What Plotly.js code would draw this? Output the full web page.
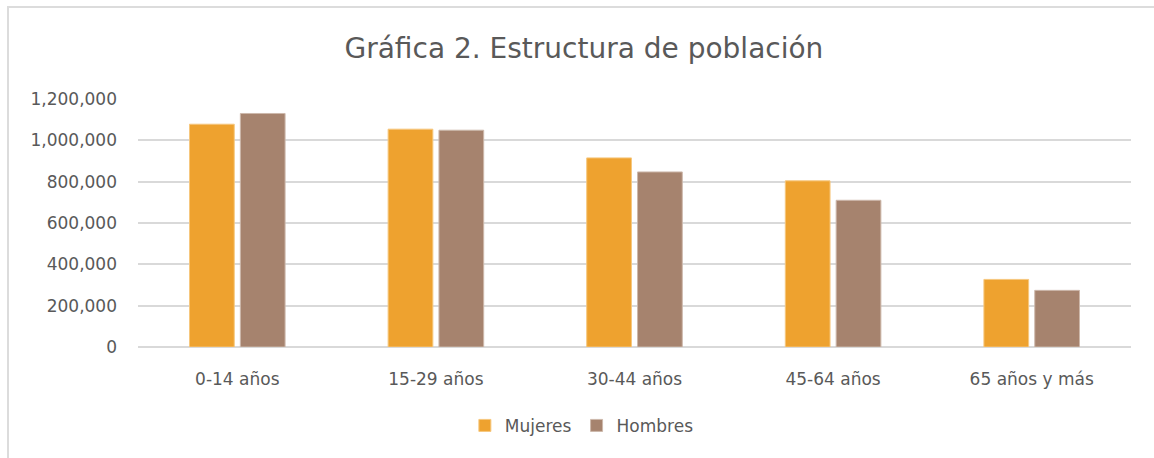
<!DOCTYPE html>
<html>
<head>
<meta charset="utf-8">
<script src="https://cdn.plot.ly/plotly-3.0.1.min.js"></script>
<style>
  html, body { margin: 0; padding: 0; background: #ffffff; }
  #wrap { position: relative; width: 1154px; height: 458px; overflow: hidden; }
  #chart { position: absolute; left: 0; top: 0; width: 1154px; height: 458px; }
  #frame { position: absolute; left: 7px; top: 6px; width: 1160px; height: 470px;
           border-top: 2px solid #dcdcdc; border-left: 2px solid #dcdcdc; pointer-events: none; }
</style>
</head>
<body>
<div id="wrap">
  <div id="chart"></div>
  <div id="frame"></div>
</div>
<script>
const categories = ["0-14 años", "15-29 años", "30-44 años", "45-64 años", "65 años y más"];
const mujeres = [1078000, 1054000, 915000, 804000, 327000];
const hombres = [1130000, 1049000, 847000, 710000, 274000];
const yTicks = [0, 200000, 400000, 600000, 800000, 1000000, 1200000];

const FONT = "'DejaVu Sans', 'Open Sans', sans-serif";
const TXT = "#595959";

const traces = [
  {
    type: "bar", name: "Mujeres", x: categories, y: mujeres,
    marker: { color: "#EEA22F", line: { color: "#F6C77E", width: 1 } },
    hoverinfo: "x+y+name"
  },
  {
    type: "bar", name: "Hombres", x: categories, y: hombres,
    marker: { color: "#A6836E", line: { color: "#CDB8AB", width: 1 } },
    hoverinfo: "x+y+name"
  }
];

const layout = {
  width: 1154, height: 458,
  margin: { l: 138, r: 23, t: 99, b: 111 },
  paper_bgcolor: "rgba(0,0,0,0)", plot_bgcolor: "rgba(0,0,0,0)",
  font: { family: FONT, color: TXT, size: 17 },
  title: {
    text: "Gráfica 2. Estructura de población",
    font: { family: FONT, size: 28, color: TXT },
    x: 0.506, xanchor: "center", xref: "container",
    y: 1 - 48 / 458, yanchor: "middle", yref: "container"
  },
  barmode: "group",
  bargap: 0.488,
  bargroupgap: 0.12,
  showlegend: true,
  legend: {
    orientation: "h", x: 0.447, xanchor: "center", y: -0.318, yanchor: "middle",
    font: { family: FONT, size: 17, color: TXT }, itemwidth: 30, traceorder: "normal"
  },
  xaxis: {
    type: "category", showgrid: false, zeroline: false, showline: false,
    ticks: "", ticklabelstandoff: 20,
    tickfont: { family: FONT, size: 17, color: TXT }
  },
  yaxis: {
    range: [0, 1200000], tickvals: yTicks, tickformat: ",d",
    showgrid: true, gridcolor: "#d9d9d9", gridwidth: 1.5,
    zeroline: true, zerolinecolor: "#d9d9d9", zerolinewidth: 1.5,
    showline: false, ticks: "", ticklen: 0, ticklabelstandoff: 20,
    tickfont: { family: FONT, size: 17, color: TXT }
  }
};

Plotly.newPlot("chart", traces, layout, { displayModeBar: false, staticPlot: false });
</script>
</body>
</html>
